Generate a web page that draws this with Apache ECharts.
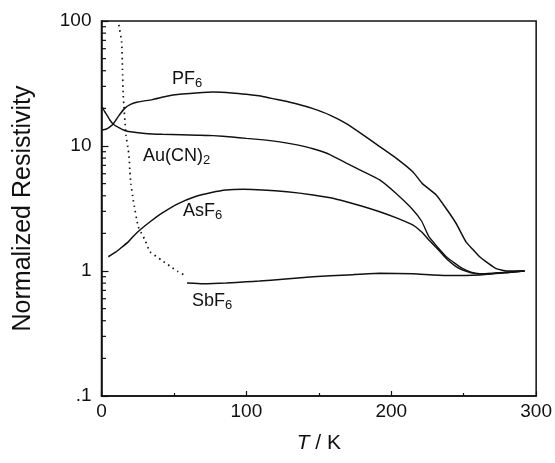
<!DOCTYPE html>
<html>
<head>
<meta charset="utf-8">
<script src="https://cdn.jsdelivr.net/npm/echarts@6/dist/echarts.min.js"></script>
<style>
  html, body { margin: 0; padding: 0; background: #fff; }
  #chart { width: 555px; height: 463px; }
</style>
</head>
<body>
<div id="chart"></div>
<script>
// [T (K), normalized resistivity]
var pf6 = [[0.5,13.4],[3,13.6],[6,14.3],[8,15],[12,17.5],[16,20],[20,21.5],[25,22.5],[35,23.5],[45,25],
  [54,25.9],[65,26.5],[77,27],[90,26.6],[100,25.9],[112,24.8],[123,23.3],[135,21.7],[146,19.9],[158,17.6],
  [169,15.1],[180,12.4],[192,9.9],[204,7.9],[215,6.2],[221.5,5.0],[231,4.06],[238,3.15],[244.7,2.41],
  [251.6,1.71],[256,1.5],[261,1.3],[267,1.15],[272,1.05],[280,1.0],[292,1.0]];
var au = [[0.5,20.5],[2,19],[4,17.5],[6,16],[8,15],[12,14],[16,13.3],[20,13],[30,12.6],[42,12.4],
  [55,12.3],[66,12.2],[77,12.1],[90,11.8],[100,11.5],[112,11.2],[123,10.8],[135,10.2],[146,9.5],[158,8.5],
  [169,7.3],[180,6.3],[192,5.35],[203,4.2],[215,3.08],[221,2.5],[226,1.88],[232,1.55],[238,1.3],[244,1.15],
  [249,1.05],[255,0.98],[261,0.95],[270,0.96],[280,0.98],[292,1.0]];
var asf6 = [[4.7,1.3],[10,1.42],[14,1.55],[18.5,1.71],[22,1.9],[26.5,2.13],[34,2.5],[41.5,2.89],[53,3.46],
  [64.4,3.93],[76,4.25],[86,4.45],[98,4.5],[111,4.45],[128,4.3],[146,4.06],[158,3.85],[169,3.58],[180,3.3],
  [192,2.98],[204,2.65],[215,2.33],[221,2.05],[226,1.77],[232,1.5],[238,1.26],[244,1.1],[249,1.02],
  [255,0.97],[261,0.95],[272,0.96],[292,1.0]];
var sbf6Drop = [[12,93],[13.9,68],[14.5,41],[15,25.6],[16.9,12.2],[18.5,9.3],[19.2,7.7],[19.6,6.2],
  [20.3,5.0],[21.9,3.7],[25.4,2.26],[30,1.77],[33.4,1.43],[41.5,1.22],[47,1.1],[52.7,0.99],[58,0.92]];
var sbf6 = [[59,0.8],[70,0.79],[86,0.80],[100,0.82],[109,0.83],[125,0.86],[146,0.90],[170,0.93],
  [192,0.96],[215,0.95],[238,0.92],[261,0.93],[280,0.97],[292,1.0]];

var yMajorLabels = {0.1: '.1', 1: '1', 10: '10', 100: '100'};
var yMinorTicks = [0.2,0.3,0.4,0.5,0.6,0.7,0.8,0.9,2,3,4,5,6,7,8,9,20,30,40,50,60,70,80,90];

var ink = '#111';
var font = '"Liberation Sans", Arial, sans-serif';

var chart = echarts.init(document.getElementById('chart'));

function lineSeries(name, data, width, dash) {
  return {
    name: name, type: 'line', data: data, showSymbol: false, smooth: 0.15,
    lineStyle: { color: ink, width: width, type: dash || 'solid' },
    silent: true, z: 3
  };
}

function label(text, sub, left, top) {
  return {
    type: 'text', left: left, top: top,
    style: {
      text: text + '{s|' + sub + '}', font: '18px ' + font, fill: ink,
      rich: { s: { fontSize: 13, fontFamily: font, fill: ink, padding: [9, 0, 0, 0] } }
    }
  };
}

var option = {
  animation: false,
  grid: {
    left: 101.5, right: 18.5, top: 21, bottom: 67,
    show: true, borderColor: ink, borderWidth: 1.5, backgroundColor: 'transparent'
  },
  xAxis: {
    type: 'value', min: 0, max: 300, interval: 100,
    name: '{i|T} / K', nameLocation: 'middle', nameGap: 37,
    nameTextStyle: {
      fontFamily: font, fontSize: 21, color: ink,
      rich: { i: { fontFamily: font, fontSize: 21, fontStyle: 'italic', color: ink } }
    },
    axisLine: { lineStyle: { color: ink, width: 1.5 } },
    axisTick: { inside: true, length: 5, lineStyle: { color: ink, width: 1.2 } },
    minorTick: { show: true, splitNumber: 2, length: 3, lineStyle: { color: ink, width: 1.2 } },
    axisLabel: { fontFamily: font, fontSize: 19, color: ink, margin: 6 },
    splitLine: { show: false }
  },
  yAxis: {
    type: 'log', logBase: 10, min: 0.1, max: 100,
    name: 'Normalized Resistivity', nameLocation: 'middle', nameGap: 66,
    nameTextStyle: { fontFamily: font, fontSize: 25, color: ink },
    axisLine: { lineStyle: { color: ink, width: 1.5 } },
    axisTick: { inside: true, length: 7, lineStyle: { color: ink, width: 1.2 } },
    axisLabel: {
      fontFamily: font, fontSize: 19, color: ink, margin: 10,
      formatter: function (v) { return yMajorLabels[v] || String(v); }
    },
    splitLine: { show: false }
  },
  series: [
    lineSeries('PF6', pf6, 1.5),
    lineSeries('Au(CN)2', au, 1.4),
    lineSeries('AsF6', asf6, 1.5),
    lineSeries('SbF6 drop', sbf6Drop, 1.7, [1.5, 4]),
    lineSeries('SbF6', sbf6, 1.5),
    {
      name: 'minor y ticks', type: 'custom', silent: true, z: 4,
      data: yMinorTicks.map(function (v) { return [0, v]; }),
      renderItem: function (params, api) {
        var p = api.coord([0, api.value(1)]);
        return {
          type: 'line',
          shape: { x1: p[0], y1: p[1], x2: p[0] + 4.5, y2: p[1] },
          style: { stroke: ink, lineWidth: 1.2 }
        };
      }
    }
  ],
  graphic: [
    label('PF', '6', 172, 70),
    label('Au(CN)', '2', 143, 147),
    label('AsF', '6', 183, 202),
    label('SbF', '6', 192, 292)
  ]
};

chart.setOption(option);
</script>
</body>
</html>
